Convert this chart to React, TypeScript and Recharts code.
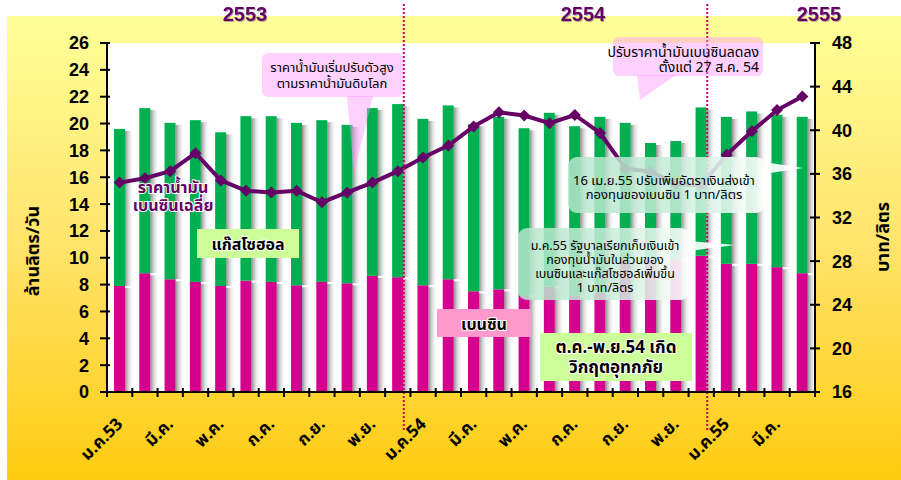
import React from 'react';
import { ComposedChart, Bar, Line, XAxis, YAxis, CartesianGrid, ReferenceLine } from 'recharts';

const monthKeys = [
  '2553-01', '2553-02', '2553-03', '2553-04', '2553-05', '2553-06', '2553-07', '2553-08', '2553-09', '2553-10', '2553-11', '2553-12',
  '2554-01', '2554-02', '2554-03', '2554-04', '2554-05', '2554-06', '2554-07', '2554-08', '2554-09', '2554-10', '2554-11', '2554-12',
  '2555-01', '2555-02', '2555-03', '2555-04',
];
const monthLabels = [
  'ม.ค.53', 'ก.พ.', 'มี.ค.', 'เม.ย.', 'พ.ค.', 'มิ.ย.', 'ก.ค.', 'ส.ค.', 'ก.ย.', 'ต.ค.', 'พ.ย.', 'ธ.ค.',
  'ม.ค.54', 'ก.พ.', 'มี.ค.', 'เม.ย.', 'พ.ค.', 'มิ.ย.', 'ก.ค.', 'ส.ค.', 'ก.ย.', 'ต.ค.', 'พ.ย.', 'ธ.ค.',
  'ม.ค.55', 'ก.พ.', 'มี.ค.', 'เม.ย.',
];
// million litres / day
const benzine = [7.9, 8.85, 8.4, 8.2, 7.9, 8.3, 8.2, 7.95, 8.2, 8.1, 8.65, 8.55, 7.95, 8.4, 7.5, 7.65, 7.2, 7.85, 7.2, 7.4, 9.9, 9.9, 9.9, 10.15, 9.55, 9.55, 9.3, 8.85];
const gasohol = [11.7, 12.3, 11.65, 12.05, 11.45, 12.25, 12.35, 12.1, 12.05, 11.8, 12.5, 12.9, 12.4, 12.95, 12.45, 12.85, 12.45, 12.95, 12.6, 13.1, 10.15, 8.65, 8.8, 11.05, 10.95, 11.35, 11.35, 11.65];
// baht / litre
const price = [35.2, 35.6, 36.25, 37.9, 35.4, 34.45, 34.3, 34.45, 33.4, 34.3, 35.2, 36.25, 37.5, 38.6, 40.35, 41.65, 41.35, 40.65, 41.4, 39.75, 36.5, 36.2, 35.1, 34.95, 37.75, 39.9, 41.85, 43.1];

const leftTicks = [0, 2, 4, 6, 8, 10, 12, 14, 16, 18, 20, 22, 24, 26];
const rightTicks = [16, 20, 24, 28, 32, 36, 40, 44, 48];
const yearEndKeys = ['2553-12', '2554-12'];
const yearLabels = ['2553', '2554', '2555'];

const data = monthKeys.map((k, i) => ({
  key: k,
  benzine: benzine[i],
  gasohol: gasohol[i],
  price: price[i],
}));

const CHART_W = 901;
const CHART_H = 480;
const LEFT_AXIS_W = 107;
const RIGHT_AXIS_W = 86;
const BAND = (CHART_W - LEFT_AXIS_W - RIGHT_AXIS_W) / monthKeys.length;

const TH = "Tahoma, 'Noto Sans Thai', 'Noto Sans Thai UI', 'Leelawadee UI', 'DejaVu Sans', sans-serif";
const NUM = "'Liberation Sans', Arial, sans-serif";
const GREEN = '#00B050';
const MAGENTA = '#D6008F';
const PURPLE = '#660066';

const makeBarShape = (fill: string) => (props: any) => {
  const { x, y, width, height } = props;
  if (!height || height <= 0) return <g />;
  return (
    <g>
      <rect x={x + width} y={y + 2} width={9} height={Math.max(0, height - 2)} fill="url(#barShadow)" />
      <rect x={x} y={y} width={width} height={height} fill={fill} />
    </g>
  );
};

const XTick = (props: any) => {
  const { x, y, index } = props;
  const left = x - BAND / 2;
  const right = x + BAND / 2;
  const ax = x + 4;
  const ay = y + 33;
  return (
    <g>
      <line x1={left} x2={left} y1={y - 4} y2={y + 5} stroke="#000" strokeWidth={2} />
      {index === monthKeys.length - 1 ? <line x1={right} x2={right} y1={y - 4} y2={y + 5} stroke="#000" strokeWidth={2} /> : null}
      {index % 2 === 0 ? (
        <text x={ax} y={ay} transform={`rotate(-45 ${ax} ${ay})`} textAnchor="end" fontSize={17} fontWeight="bold" fontFamily={TH} fill="#000">
          {monthLabels[index]}
        </text>
      ) : null}
    </g>
  );
};

const LeftTick = (props: any) => {
  const { x, y, payload } = props;
  return (
    <g>
      <line x1={x - 7} x2={x + 3} y1={y} y2={y} stroke="#000" strokeWidth={2} />
      <text x={x - 18} y={y} dy="0.36em" textAnchor="end" fontSize={18} fontWeight="bold" fontFamily={NUM} fill="#000">
        {payload.value}
      </text>
    </g>
  );
};

const RightTick = (props: any) => {
  const { x, y, payload } = props;
  return (
    <g>
      <line x1={x - 5} x2={x + 5} y1={y} y2={y} stroke="#000" strokeWidth={2} />
      <text x={x + 17} y={y} dy="0.36em" textAnchor="start" fontSize={18} fontWeight="bold" fontFamily={NUM} fill="#000">
        {payload.value}
      </text>
    </g>
  );
};

const Diamond = (props: any) => {
  const { cx, cy } = props;
  if (cx == null || cy == null) return <g />;
  const r = 6;
  return <polygon points={`${cx},${cy - r} ${cx + r},${cy} ${cx},${cy + r} ${cx - r},${cy}`} fill={PURPLE} />;
};

const DividerShape = (props: any) => {
  const { x1, y1, x2, y2 } = props;
  const top = Math.min(y1, y2);
  const bottom = Math.max(y1, y2);
  return <line x1={x1 + 6} x2={x2 + 6} y1={top - 39} y2={bottom + 40} stroke="#CC0066" strokeWidth={2} strokeDasharray="2 2" />;
};

export default function App() {
  return (
    <div style={{ position: 'absolute', left: 0, top: 0, width: CHART_W, height: CHART_H, background: '#fff', overflow: 'hidden' }}>
      <div style={{ position: 'absolute', left: 7, top: 16, right: 0, bottom: 0, background: 'linear-gradient(to bottom, #FFFF99 0%, #FFE36A 50%, #FFCC11 100%)' }} />
      <svg width={0} height={0} style={{ position: 'absolute' }}>
        <defs>
          <linearGradient id="barShadow" x1="0" y1="0" x2="1" y2="0">
            <stop offset="0%" stopColor="#777" stopOpacity={0.85} />
            <stop offset="100%" stopColor="#fff" stopOpacity={0} />
          </linearGradient>
          <linearGradient id="mintFade" x1="0" y1="0" x2="1" y2="0">
            <stop offset="0%" stopColor="#B4E6CB" stopOpacity={0.85} />
            <stop offset="55%" stopColor="#C8EDD9" stopOpacity={0.85} />
            <stop offset="100%" stopColor="#FFFFFF" stopOpacity={0.92} />
          </linearGradient>
        </defs>
      </svg>
      <div style={{ position: 'absolute', left: 0, top: 0 }}>
        <ComposedChart width={CHART_W} height={CHART_H} data={data} margin={{ top: 43, right: 0, bottom: 0, left: 0 }}>
          <CartesianGrid horizontal={false} vertical={false} fill="#ffffff" xAxisId="cat" yAxisId="left" />
          <XAxis
            xAxisId="cat"
            dataKey="key"
            height={88}
            interval={0}
            tickSize={0}
            tickMargin={0}
            tickLine={false}
            axisLine={{ stroke: '#000', strokeWidth: 2 }}
            tick={XTick}
          />
          <YAxis
            yAxisId="left"
            domain={[0, 26]}
            ticks={leftTicks}
            width={LEFT_AXIS_W}
            tickSize={0}
            tickMargin={0}
            tickLine={false}
            tick={LeftTick}
            interval={0}
            axisLine={{ stroke: '#000', strokeWidth: 2 }}
          />
          <YAxis
            yAxisId="right"
            orientation="right"
            domain={[16, 48]}
            ticks={rightTicks}
            width={RIGHT_AXIS_W}
            tickSize={0}
            tickMargin={0}
            tickLine={false}
            tick={RightTick}
            interval={0}
            axisLine={{ stroke: '#000', strokeWidth: 2 }}
          />
          <Bar xAxisId="cat" yAxisId="left" dataKey="benzine" stackId="a" barSize={11} fill={MAGENTA} shape={makeBarShape(MAGENTA)} isAnimationActive={false} />
          <Bar xAxisId="cat" yAxisId="left" dataKey="gasohol" stackId="a" barSize={11} fill={GREEN} shape={makeBarShape(GREEN)} isAnimationActive={false} />
          <Line xAxisId="cat" yAxisId="right" dataKey="price" stroke={PURPLE} strokeWidth={4} dot={Diamond} activeDot={false} isAnimationActive={false} />
          {yearEndKeys.map((k) => (
            <ReferenceLine key={k} xAxisId="cat" yAxisId="left" x={k} shape={DividerShape} />
          ))}
        </ComposedChart>
      </div>
      <svg width={CHART_W} height={CHART_H} style={{ position: 'absolute', left: 0, top: 0, pointerEvents: 'none' }}>
        {/* year labels */}
        {yearLabels.map((y, i) => {
          const xs = [245, 583, 819];
          return (
            <g key={y}>
              <text x={xs[i]} y={21} textAnchor="middle" fontSize={20} fontWeight="bold" fontFamily={NUM} fill={PURPLE}
                style={{ filter: 'drop-shadow(1.5px 1.5px 0.5px rgba(120,120,120,0.6))' }}>{y}</text>
            </g>
          );
        })}
        {/* axis titles */}
        <text x={33} y={251} transform="rotate(-90 33 251)" textAnchor="middle" dominantBaseline="central" fontSize={18} fontWeight="bold" fontFamily={TH} fill="#000">ล้านลิตร/วัน</text>
        <text x={883} y={237} transform="rotate(-90 883 237)" textAnchor="middle" dominantBaseline="central" fontSize={18} fontWeight="bold" fontFamily={TH} fill="#000">บาท/ลิตร</text>

        {/* callout 1 */}
        <g>
          <path d="M 347 96 L 354 173 L 373 96 Z" fill="#FF99FF" fillOpacity={0.45} />
          <rect x={262} y={53} width={141} height={44} rx={6} fill="#FF99FF" fillOpacity={0.45} />
          <text x={332} y={72} textAnchor="middle" fontSize={13} fontFamily={TH} fill="#000">ราคาน้ำมันเริ่มปรับตัวสูง</text>
          <text x={332} y={88} textAnchor="middle" fontSize={13} fontFamily={TH} fill="#000">ตามราคาน้ำมันดิบโลก</text>
        </g>
        {/* callout 2 */}
        <g>
          <path d="M 637 75 L 640 100 L 676 75 Z" fill="#FF99FF" fillOpacity={0.45} />
          <rect x={613} y={37} width={150} height={39} rx={6} fill="#FF99FF" fillOpacity={0.45} />
          <text x={759} y={57} textAnchor="end" fontSize={14} fontFamily={TH} fill="#000">ปรับราคาน้ำมันเบนซินลดลง</text>
          <text x={759} y={72} textAnchor="end" fontSize={14} fontFamily={TH} fill="#000">ตั้งแต่ 27 ส.ค. 54</text>
        </g>
        {/* callout 3 */}
        <g>
          <path d="M 764 162 L 803 168 L 764 174 Z" fill="#FFFFFF" fillOpacity={0.9} />
          <rect x={568} y={157} width={197} height={56} rx={9} fill="url(#mintFade)" />
          <text x={664} y={185} textAnchor="middle" fontSize={13} fontFamily={TH} fill="#000">16 เม.ย.55 ปรับเพิ่มอัตราเงินส่งเข้า</text>
          <text x={664} y={199} textAnchor="middle" fontSize={13} fontFamily={TH} fill="#000">กองทุนของเบนซิน 1 บาท/ลิตร</text>
        </g>
        {/* callout 4 */}
        <g>
          <path d="M 689 241 L 735 245 L 689 251 Z" fill="#FFFFFF" fillOpacity={0.9} />
          <rect x={518} y={228} width={172} height={72} rx={9} fill="url(#mintFade)" />
          <text x={605} y={250} textAnchor="middle" fontSize={12.5} fontFamily={TH} fill="#000">ม.ค.55 รัฐบาลเรียกเก็บเงินเข้า</text>
          <text x={605} y={264} textAnchor="middle" fontSize={12.5} fontFamily={TH} fill="#000">กองทุนน้ำมันในส่วนของ</text>
          <text x={605} y={278} textAnchor="middle" fontSize={12.5} fontFamily={TH} fill="#000">เบนซินและแก๊สโซฮอล์เพิ่มขึ้น</text>
          <text x={605} y={292} textAnchor="middle" fontSize={12.5} fontFamily={TH} fill="#000">1 บาท/ลิตร</text>
        </g>

        {/* series labels */}
        <rect x={197} y={229} width={102} height={29} fill="#CCFF99" />
        <text x={248} y={250} textAnchor="middle" fontSize={16} fontWeight="bold" fontFamily={TH} fill="#000" stroke="#fff" strokeWidth={2} paintOrder="stroke">แก๊สโซฮอล</text>
        <rect x={437} y={309} width={94} height={28} fill="#FF99CC" />
        <text x={484} y={330} textAnchor="middle" fontSize={16} fontWeight="bold" fontFamily={TH} fill="#000" stroke="#fff" strokeWidth={2} paintOrder="stroke">เบนซิน</text>
        <rect x={540} y={333} width={152} height={48} fill="#CCFF99" />
        <text x={616} y={353} textAnchor="middle" fontSize={17} fontWeight="bold" fontFamily={TH} fill="#000" stroke="#fff" strokeWidth={2} paintOrder="stroke">ต.ค.-พ.ย.54 เกิด</text>
        <text x={616} y={373} textAnchor="middle" fontSize={17} fontWeight="bold" fontFamily={TH} fill="#000" stroke="#fff" strokeWidth={2} paintOrder="stroke">วิกฤตอุทกภัย</text>
        <text x={173} y={193} textAnchor="middle" fontSize={16} fontWeight="bold" fontFamily={TH} fill={PURPLE} stroke="#fff" strokeWidth={2} paintOrder="stroke">ราคาน้ำมัน</text>
        <text x={173} y={211} textAnchor="middle" fontSize={16} fontWeight="bold" fontFamily={TH} fill={PURPLE} stroke="#fff" strokeWidth={2} paintOrder="stroke">เบนซินเฉลี่ย</text>
      </svg>
    </div>
  );
}
